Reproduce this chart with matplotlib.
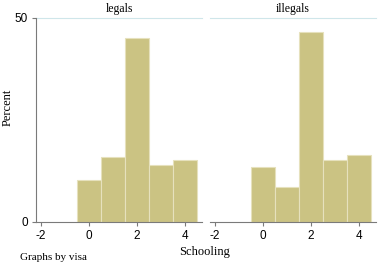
"""Schooling histograms by visa status."""
import matplotlib.pyplot as plt

schooling = [0, 1, 2, 3, 4]
legals_pct = [10.3, 15.9, 45.2, 14.0, 15.1]
illegals_pct = [13.6, 8.7, 46.5, 15.3, 16.4]
panel_titles = ['legals', 'illegals']
x_ticks = [-2, 0, 2, 4]
y_ticks = [0, 50]

BAR = '#cbc383'
EDGE = '#e6e1bd'
AXIS = '#7a7a7a'
GRID = '#cfe6ea'
SERIF = 'Liberation Serif'
SANS = 'Liberation Sans'

fig = plt.figure(figsize=(3.79, 2.66), dpi=100)
ax1 = fig.add_axes([36 / 379, 44 / 266, 166 / 379, 204 / 266])
ax2 = fig.add_axes([210 / 379, 44 / 266, 166 / 379, 204 / 266])

for ax, vals, title in zip([ax1, ax2], [legals_pct, illegals_pct], panel_titles):
    ax.bar(schooling, vals, width=1.0, color=BAR, edgecolor=EDGE, linewidth=0.8,
           zorder=2)
    ax.axhline(50, color=GRID, linewidth=0.8, zorder=1, clip_on=False)
    ax.set_xlim(-2.21, 4.7)
    ax.set_ylim(0, 50)
    ax.set_xticks(x_ticks)
    ax.set_xticklabels([str(t) for t in x_ticks], family=SANS, fontsize=8.5)
    for side in ['top', 'right']:
        ax.spines[side].set_visible(False)
    ax.spines['bottom'].set_color(AXIS)
    ax.spines['left'].set_color(AXIS)
    ax.tick_params(axis='both', colors=AXIS, labelcolor='black', length=3,
                   width=0.8, pad=3)
    ax.set_title(title, family=SERIF, fontsize=8.5, pad=4)

ax1.set_yticks(y_ticks)
ax1.set_yticklabels([str(t) for t in y_ticks], family=SANS, fontsize=8.5)

ax2.set_yticks([])
ax2.spines['left'].set_visible(False)

fig.text(8 / 379, 1 - 107 / 266, 'Percent', family=SERIF, fontsize=9,
         rotation=90, ha='center', va='center')
fig.text(205 / 379, 1 - 252 / 266, 'Schooling', family=SERIF, fontsize=9,
         ha='center', va='center')
fig.text(20 / 379, 1 - 258 / 266, 'Graphs by visa', family=SERIF, fontsize=8,
         ha='left', va='center')

plt.savefig('out.png', dpi=100)
